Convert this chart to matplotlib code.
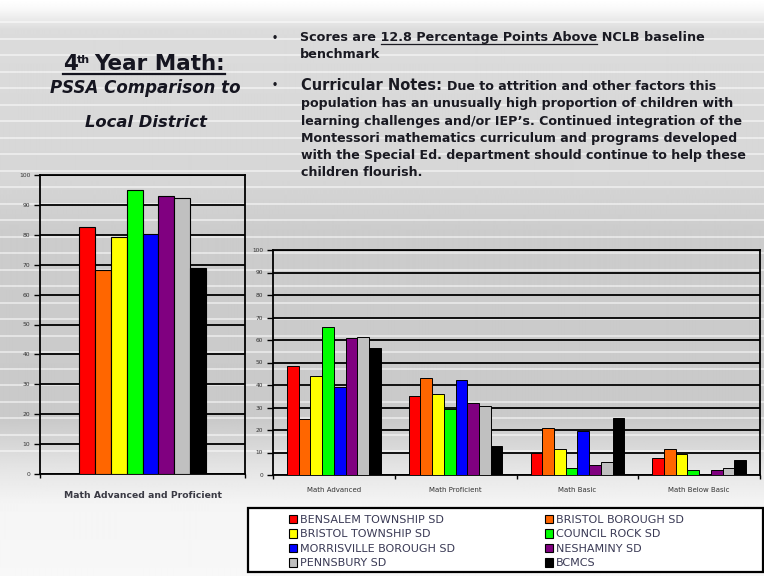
import numpy as np
import matplotlib
matplotlib.use("Agg")
import matplotlib.pyplot as plt
from matplotlib.patches import Rectangle, Patch
from matplotlib.lines import Line2D

# ---------------- data ----------------
districts = ["BENSALEM TOWNSHIP SD", "BRISTOL BOROUGH SD", "BRISTOL TOWNSHIP SD",
             "COUNCIL ROCK SD", "MORRISVILLE BOROUGH SD", "NESHAMINY SD",
             "PENNSBURY SD", "BCMCS"]
colors = ["#ff0000", "#ff6600", "#ffff00", "#00ff00", "#0000ff", "#800080",
          "#c0c0c0", "#000000"]

left_category = ["Math Advanced and Proficient"]
left_values = [82.7, 68.3, 79.4, 95.0, 80.3, 93.0, 92.2, 68.8]

right_categories = ["Math Advanced", "Math Proficient", "Math Basic", "Math Below Basic"]
math_advanced = [48.4, 24.9, 44.0, 65.6, 39.3, 60.7, 61.5, 56.6]
math_proficient = [35.1, 43.0, 35.9, 29.3, 42.2, 32.1, 30.7, 12.9]
math_basic = [9.9, 20.7, 11.4, 3.0, 19.7, 4.4, 5.9, 25.2]
math_below_basic = [7.7, 11.4, 9.2, 2.2, 0.0, 2.2, 3.0, 6.7]
yticks = list(range(0, 101, 10))

FONT = "DejaVu Sans"

W, H = 764, 576
fig = plt.figure(figsize=(W / 100, H / 100), dpi=100)


def box(x0, y0, x1, y1):
    return [x0 / W, 1 - y1 / H, (x1 - x0) / W, (y1 - y0) / H]


def P(x, y):
    return (x / W, 1 - y / H)


# ---------------- background ----------------
bg = fig.add_axes([0, 0, 1, 1], zorder=-10)
ys = np.arange(H)
lvl = np.interp(ys, [0, 8, 30, 180, 230, 420, 470, 505, 576],
                [1.0, 0.98, 0.86, 0.84, 0.80, 0.79, 0.90, 0.96, 0.97])
img = np.repeat(lvl[:, None], 4, axis=1)
bg.imshow(img, cmap="gray", vmin=0, vmax=1, aspect="auto",
          extent=[0, W, H, 0], interpolation="bilinear")
for yy in np.arange(22, 460, 16.5):
    bg.plot([0, W], [yy, yy], color="white", lw=1.3, alpha=0.55)
bg.set_xlim(0, W)
bg.set_ylim(H, 0)
bg.axis("off")

renderer = fig.canvas.get_renderer()


def width(t):
    return t.get_window_extent(renderer).width


def fit(t, target):
    t.set_fontsize(t.get_fontsize() * target / width(t))
    return t.get_fontsize()


def tmpwidth(s, **kw):
    t = fig.text(0, 0, s, **kw)
    w = width(t)
    t.remove()
    return w


# ---------------- title ----------------
tk = dict(fontfamily=FONT, fontweight="bold", color="#151520")
t4 = fig.text(*P(63, 70), "4", fontsize=14, va="baseline", ha="left", **tk)
w4 = width(t4)
tth = fig.text(*P(63 + w4 + 0.5, 63), "th", fontsize=8, va="baseline", ha="left", **tk)
wth = width(tth)
xs = 63 + w4 + wth + 4
tym = fig.text(*P(xs, 70), "Year Math:", fontsize=14, va="baseline", ha="left", **tk)
fs_t = fit(tym, 225 - xs)
t4.set_fontsize(fs_t)
fig.add_artist(Line2D([63 / W, 225 / W], [1 - 73.5 / H, 1 - 73.5 / H], color="#151520",
                      lw=1.6))
t = fig.text(*P(145, 93), "PSSA Comparison to", fontsize=12, ha="center", va="baseline",
             style="italic", **tk)
fit(t, 190)
t = fig.text(*P(146, 127), "Local District", fontsize=12, ha="center", va="baseline",
             style="italic", **tk)
fit(t, 122)

# ---------------- bullets ----------------
bk = dict(fontfamily=FONT, fontweight="bold", color="#1a1a22")
fig.text(*P(272, 38), "\u2022", fontsize=7, ha="left", va="center", **bk)
fig.text(*P(272, 85), "\u2022", fontsize=7, ha="left", va="center", **bk)
line1 = "Scores are 12.8 Percentage Points Above NCLB baseline"
t1 = fig.text(*P(300, 41), line1, fontsize=9, ha="left", va="baseline", **bk)
fs1 = fit(t1, 403)
wa = tmpwidth("Scores are 12.8 Percentage Points Above", fontsize=fs1, **bk)
wb = tmpwidth("12.8 Percentage Points Above", fontsize=fs1, **bk)
fig.add_artist(Line2D([(300 + wa - wb) / W, (300 + wa) / W], [1 - 43.5 / H, 1 - 43.5 / H],
                      color="#1a1a22", lw=0.9))
fig.text(*P(300, 58), "benchmark", fontsize=fs1, ha="left", va="baseline", **bk)

tc = fig.text(*P(301, 90), "Curricular Notes:", fontsize=11, ha="left", va="baseline", **bk)
fit(tc, 140)
rest = ["Due to attrition and other factors this",
        "population has an unusually high proportion of children with",
        "learning challenges and/or IEP\u2019s. Continued integration of the",
        "Montessori mathematics curriculum and programs developed",
        "with the Special Ed. department should continue to help these",
        "children flourish."]
tr = fig.text(*P(301, 107.5), rest[1], fontsize=8, ha="left", va="baseline", **bk)
fs2 = fit(tr, 433)
fig.text(*P(447, 90), rest[0], fontsize=fs2, ha="left", va="baseline", **bk)
for i, s in enumerate(rest[2:]):
    fig.text(*P(301, 124.7 + 17.2 * i), s, fontsize=fs2, ha="left", va="baseline", **bk)

# ---------------- left chart ----------------
ax1 = fig.add_axes(box(40, 175, 245, 474))
ax1.patch.set_alpha(0)
n = len(districts)
gw1 = 0.62
bw1 = gw1 / n
x1 = np.arange(len(left_category))
for i in range(n):
    ax1.bar(x1 - gw1 / 2 + bw1 * (i + 0.5), [left_values[i]], width=bw1,
            color=colors[i], edgecolor="black", linewidth=0.8, zorder=3)
ax1.set_xlim(-0.5, 0.5)
ax1.set_ylim(0, 100)
ax1.set_yticks(yticks)
ax1.set_yticklabels([str(v) for v in yticks], fontsize=4.3, color="#333333",
                    fontfamily=FONT)
ax1.set_xticks(x1)
lab_kw = dict(fontfamily=FONT, fontweight="bold", color="#3a3a44")
fs_cat = tmpwidth(left_category[0], fontsize=10, **lab_kw)
ax1.set_xticklabels(left_category, fontsize=10 * 158 / fs_cat, **lab_kw)
ax1.tick_params(axis="x", length=0, pad=12)
ax1.set_xticks([-0.5, 0.5], minor=True)
ax1.tick_params(axis="x", which="minor", length=3, direction="out", width=1)
ax1.tick_params(axis="y", length=4, direction="out", width=1, pad=3)
ax1.yaxis.grid(True, color="black", lw=1.3, zorder=1)
ax1.set_axisbelow(True)
for sp in ax1.spines.values():
    sp.set_linewidth(1.3)

# ---------------- right chart ----------------
ax2 = fig.add_axes(box(273, 250, 760, 475))
ax2.patch.set_alpha(0)
series = np.array([math_advanced, math_proficient, math_basic, math_below_basic])
gw2 = 0.77
bw2 = gw2 / n
x2 = np.arange(len(right_categories))
for i in range(n):
    ax2.bar(x2 - gw2 / 2 + bw2 * (i + 0.5), series[:, i], width=bw2,
            color=colors[i], edgecolor="black", linewidth=0.7, zorder=3,
            label=districts[i])
ax2.set_xlim(-0.5, len(right_categories) - 0.5)
ax2.set_ylim(0, 100)
ax2.set_yticks(yticks)
ax2.set_yticklabels([str(v) for v in yticks], fontsize=4.2, color="#333333",
                    fontfamily=FONT)
ax2.set_xticks(x2)
wcat = tmpwidth(right_categories[0], fontsize=10, fontfamily=FONT)
ax2.set_xticklabels(right_categories, fontsize=10 * 54 / wcat, color="#333333",
                    fontfamily=FONT)
ax2.tick_params(axis="x", length=0, pad=9)
ax2.set_xticks(np.arange(-0.5, len(right_categories)), minor=True)
ax2.tick_params(axis="x", which="minor", length=3, direction="out", width=1)
ax2.tick_params(axis="y", length=4, direction="out", width=1, pad=3)
ax2.yaxis.grid(True, color="black", lw=1.3, zorder=1)
ax2.set_axisbelow(True)
for sp in ax2.spines.values():
    sp.set_linewidth(1.3)

# ---------------- legend ----------------
fig.add_artist(Rectangle(P(248, 572), (763 - 248) / W, (572 - 508) / H,
                         facecolor="white", edgecolor="black", lw=1.6, zorder=5))
proxies = [Patch(facecolor=c, edgecolor="black", linewidth=0.8) for c in colors]
fs_leg = 8.0
for idx, xa in (((0, 2, 4, 6), 289), ((1, 3, 5, 7), 545)):
    lg = fig.legend([proxies[i] for i in idx], [districts[i] for i in idx],
                    loc="upper left", bbox_to_anchor=P(xa, 514.5), frameon=False,
                    handlelength=0.7, handleheight=0.8, handletextpad=0.25,
                    labelspacing=0.4, borderpad=0, borderaxespad=0,
                    prop={"family": FONT, "size": fs_leg})
    lg.set_zorder(6)
    for tx in lg.get_texts():
        tx.set_color("#3a3a55")

fig.savefig("out.png", dpi=100)
